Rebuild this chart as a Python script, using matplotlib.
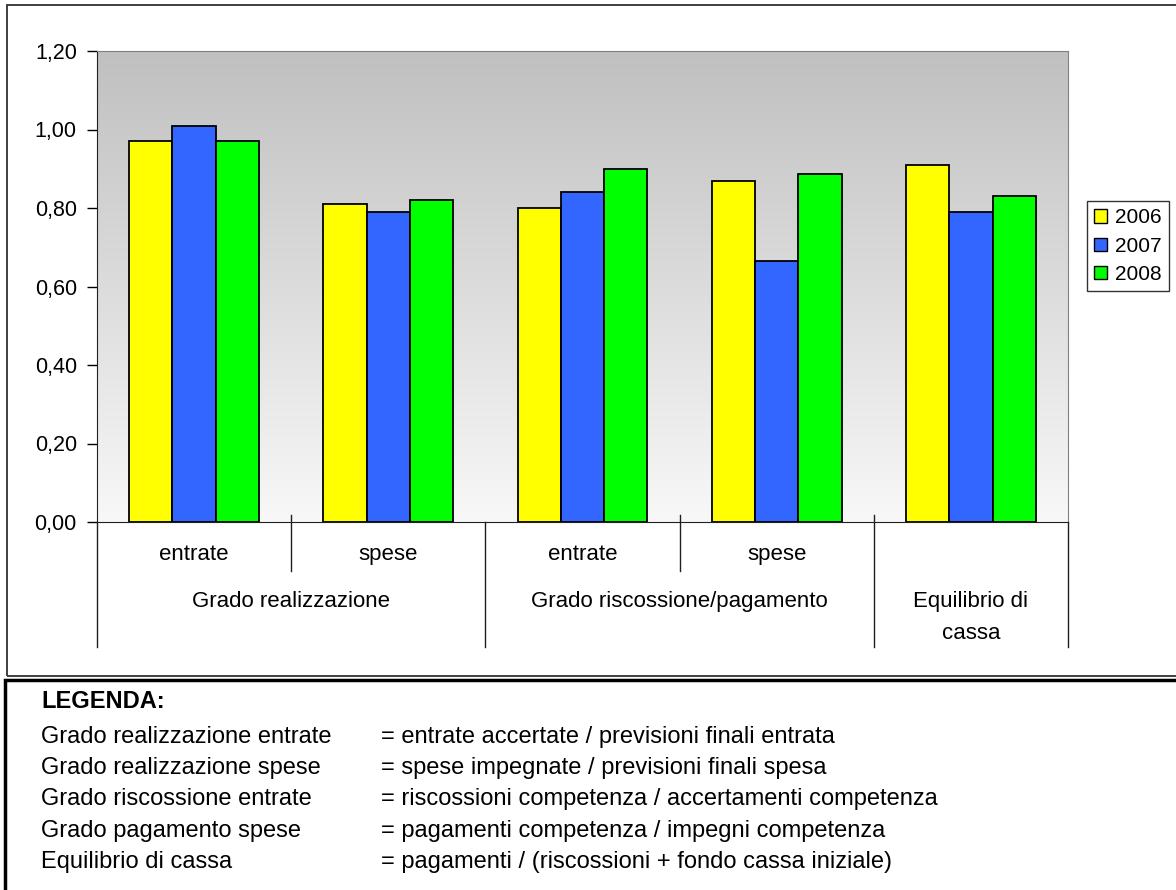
import matplotlib.pyplot as plt
import numpy as np
from matplotlib.patches import Rectangle, Patch
from matplotlib.ticker import FuncFormatter
from matplotlib.colors import LinearSegmentedColormap

plt.rcParams['font.family'] = ['Liberation Sans', 'DejaVu Sans']

# data
sub_labels = ['entrate', 'spese', 'entrate', 'spese', '']
group_labels = ['Grado realizzazione', 'Grado riscossione/pagamento', 'Equilibrio di\ncassa']
group_spans = [(0, 1), (2, 3), (4, 4)]
years = ['2006', '2007', '2008']
v2006 = [0.97, 0.81, 0.80, 0.87, 0.91]
v2007 = [1.01, 0.79, 0.84, 0.665, 0.79]
v2008 = [0.97, 0.82, 0.90, 0.887, 0.83]
colors = ['#ffff00', '#3366ff', '#00ff00']

legend_rows = [
    ('Grado realizzazione entrate', '= entrate accertate / previsioni finali entrata'),
    ('Grado realizzazione spese', '= spese impegnate / previsioni finali spesa'),
    ('Grado riscossione entrate', '= riscossioni competenza / accertamenti competenza'),
    ('Grado pagamento spese', '= pagamenti competenza / impegni competenza'),
    ('Equilibrio di cassa', '= pagamenti / (riscossioni + fondo cassa iniziale)'),
]

W, H = 1176, 890
fig = plt.figure(figsize=(W / 100, H / 100), dpi=100)

def fx(px):
    return px / W

def fy(py):
    return 1 - py / H

# outer boxes
fig.patches.append(Rectangle((fx(7), fy(676)), fx(1180) - fx(7), fy(5) - fy(676),
                             transform=fig.transFigure, fill=False, ec='#303030', lw=1.3))
fig.patches.append(Rectangle((fx(5), fy(895)), fx(1180) - fx(5), fy(680) - fy(895),
                             transform=fig.transFigure, fill=False, ec='black', lw=2.5))

ax = fig.add_axes([fx(97), fy(522), fx(1068) - fx(97), fy(51) - fy(522)])

# gradient background, grey at top fading to almost white
cmap = LinearSegmentedColormap.from_list('bg', ['#c0c0c0', '#f8f8f8'])
grad = np.linspace(0, 1, 256).reshape(-1, 1)
ax.imshow(grad, extent=[-0.5, 4.5, 0, 1.2], aspect='auto', cmap=cmap,
          origin='upper', zorder=0)

x = np.arange(len(sub_labels))
w = 0.2225
for i, (vals, c, yr) in enumerate(zip([v2006, v2007, v2008], colors, years)):
    ax.bar(x + (i - 1) * w, vals, w, color=c, edgecolor='black', linewidth=1.3,
           label=yr, zorder=2)

ax.set_xlim(-0.5, 4.5)
ax.set_ylim(0, 1.2)
ax.set_yticks(np.arange(0, 1.21, 0.2))
ax.yaxis.set_major_formatter(FuncFormatter(lambda v, p: f'{v:.2f}'.replace('.', ',')))
ax.tick_params(axis='y', labelsize=15.5, length=7, width=1, pad=7.5, colors='black')
ax.set_xticks([])
for s in ['top', 'right']:
    ax.spines[s].set_color('#808080')
ax.spines['left'].set_color('#202020')
ax.spines['bottom'].set_color('#202020')

# two-level category axis
tr = ax.get_xaxis_transform()
for b in [0.5, 2.5]:
    ax.plot([b, b], [0.015, -0.104], color='#202020', lw=1, transform=tr, clip_on=False)
for b in [-0.5, 1.5, 3.5, 4.5]:
    top = 0.015 if b == 3.5 else 0
    ax.plot([b, b], [top, -0.265], color='#202020', lw=1, transform=tr, clip_on=False)
for xi, lab in zip(x, sub_labels):
    ax.text(xi, -0.070, lab, transform=tr, ha='center', va='center', fontsize=16)
for (a, b), lab in zip(group_spans, group_labels):
    for j, line in enumerate(lab.split('\n')):
        ax.text((a + b) / 2, -0.168 - j * 0.068, line, transform=tr, ha='center',
                va='center', fontsize=16)

handles = [Patch(facecolor=c, edgecolor='black', lw=1) for c in colors]
leg = fig.legend(handles, years, loc='upper left', bbox_to_anchor=(fx(1087), fy(201)),
                 fontsize=15, frameon=True, fancybox=False, edgecolor='black',
                 handlelength=0.6, handleheight=0.6, handletextpad=0.4,
                 borderpad=0.35, labelspacing=0.45, borderaxespad=0)
leg.get_frame().set_linewidth(1)

# LEGENDA box text
fig.text(fx(41), fy(702), 'LEGENDA:', fontsize=17, fontweight='bold', va='center')
for k, (name, formula) in enumerate(legend_rows):
    yy = fy(737 + k * 31.2)
    fig.text(fx(41), yy, name, fontsize=17, va='center')
    fig.text(fx(381), yy, formula, fontsize=17, va='center')

fig.savefig('out.png', dpi=100)
